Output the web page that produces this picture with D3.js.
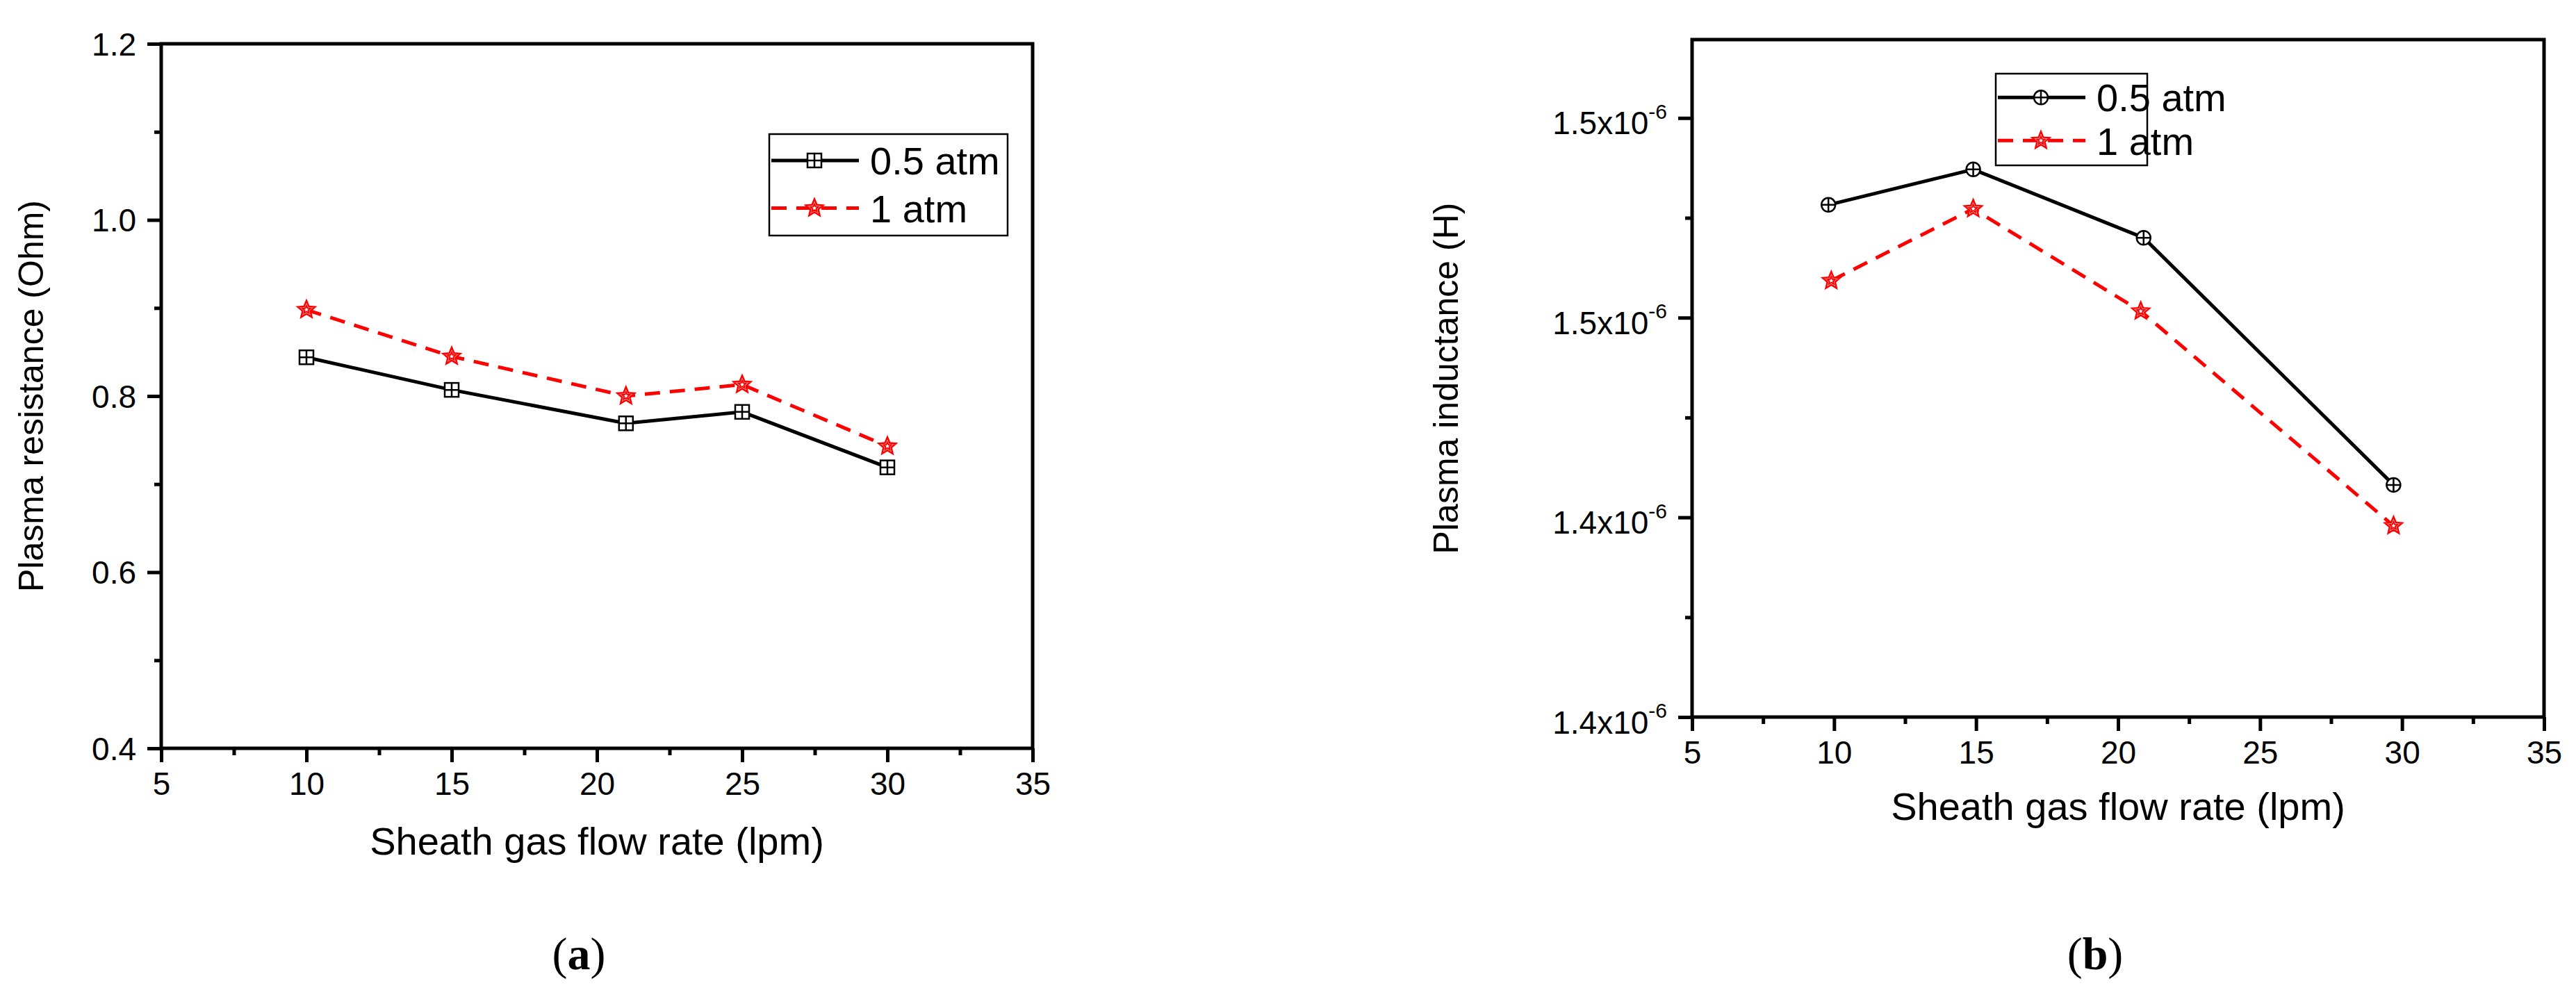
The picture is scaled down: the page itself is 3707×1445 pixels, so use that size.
<!DOCTYPE html>
<html><head><meta charset="utf-8">
<script src="https://cdn.jsdelivr.net/npm/d3@7"></script>
<style>body{margin:0;background:#fff}</style>
</head><body>
<script>
"use strict";

// panel (a) - plasma resistance
var flowA = [10, 15, 21, 25, 30];
var resLow = [0.844, 0.807, 0.769, 0.782, 0.719];
var resHigh = [0.898, 0.845, 0.800, 0.813, 0.743];
var yTicksA = [0.4, 0.6, 0.8, 1.0, 1.2];

// panel (b) - plasma inductance (H)
var flowLowB = [9.8, 14.9, 20.9, 29.7];
var flowHighB = [9.9, 14.9, 20.8, 29.7];
var indLow = [1.5026e-6, 1.5097e-6, 1.4960e-6, 1.4465e-6];
var indHigh = [1.4874e-6, 1.5018e-6, 1.4813e-6, 1.4383e-6];
var yTicksB = [1.40e-6, 1.44e-6, 1.48e-6, 1.52e-6];

var xTicks = [5, 10, 15, 20, 25, 30, 35];
var seriesNames = ["0.5 atm", "1 atm"];

var svg = d3.select("body").append("svg").attr("width", 3707).attr("height", 1445);
var tickFont = "'Liberation Sans Narrow', 'Liberation Sans', Arial, sans-serif";

function starPath(r) {
  var pts = [];
  for (var i = 0; i < 10; i++) {
    var a = -Math.PI / 2 + i * Math.PI / 5, rr = i % 2 ? r * 0.45 : r;
    pts.push([rr * Math.cos(a), rr * Math.sin(a)]);
  }
  return "M" + pts.join("L") + "Z";
}

function marker(g, type, color) {
  if (type === "square") {
    g.append("rect").attr("x", -10).attr("y", -10).attr("width", 20).attr("height", 20)
      .attr("fill", "#fff").attr("stroke", color).attr("stroke-width", 2.5);
    g.append("path").attr("d", "M-10,0H10M0,-10V10").attr("stroke", color).attr("stroke-width", 2.5);
  } else if (type === "circle") {
    g.append("circle").attr("r", 10).attr("fill", "#fff").attr("stroke", color).attr("stroke-width", 2.5);
    g.append("path").attr("d", "M-10,0H10M0,-10V10").attr("stroke", color).attr("stroke-width", 2.5);
  } else {
    g.append("path").attr("d", starPath(13)).attr("fill", "#fff").attr("stroke", color).attr("stroke-width", 2.5);
    g.append("path").attr("d", starPath(6)).attr("fill", "none").attr("stroke", color).attr("stroke-width", 2);
  }
}

function panel(o) {
  var x = d3.scaleLinear().domain([5, 35]).range([o.left, o.right]);
  var y = d3.scaleLinear().domain(o.yDomain).range([o.bottom, o.top]);
  var g = svg.append("g");

  // minor ticks
  var xMinor = d3.range(7.5, 35, 5);
  g.append("g").attr("transform", "translate(0," + o.bottom + ")")
    .call(d3.axisBottom(x).tickValues(xMinor).tickSize(10).tickFormat(""))
    .call(function (a) { a.select(".domain").remove(); a.selectAll("line").attr("stroke-width", 5); });
  g.append("g").attr("transform", "translate(" + o.left + ",0)")
    .call(d3.axisLeft(y).tickValues(o.yMinor).tickSize(10).tickFormat(""))
    .call(function (a) { a.select(".domain").remove(); a.selectAll("line").attr("stroke-width", 5); });

  var xa = g.append("g").attr("transform", "translate(0," + o.bottom + ")")
    .call(d3.axisBottom(x).tickValues(xTicks).tickSize(20).tickPadding(14).tickFormat(d3.format("d")));
  xa.select(".domain").remove();
  xa.selectAll("line").attr("stroke-width", 5);
  xa.selectAll("text").attr("font-family", tickFont).attr("font-size", 46).attr("fill", "#000");

  var ya = g.append("g").attr("transform", "translate(" + o.left + ",0)")
    .call(d3.axisLeft(y).tickValues(o.yTicks).tickSize(20).tickPadding(8).tickFormat(""));
  ya.select(".domain").remove();
  ya.selectAll("line").attr("stroke-width", 5);
  ya.selectAll(".tick").each(function (d) {
    var t = d3.select(this).append("text").attr("x", -36).attr("dy", "0.35em").attr("text-anchor", "end")
      .attr("font-family", tickFont).attr("font-size", 46).attr("fill", "#000");
    o.tickLabel(t, d);
  });

  g.append("rect").attr("x", o.left).attr("y", o.top).attr("width", o.right - o.left).attr("height", o.bottom - o.top)
    .attr("fill", "none").attr("stroke", "#000").attr("stroke-width", 5);

  o.series.forEach(function (s) {
    var pts = s.xs.map(function (v, i) { return [x(v), y(s.ys[i])]; });
    g.append("path").attr("d", d3.line()(pts)).attr("fill", "none").attr("stroke", s.color)
      .attr("stroke-width", 5).attr("stroke-dasharray", s.dash || null);
    pts.forEach(function (p) { marker(g.append("g").attr("transform", "translate(" + p + ")"), s.marker, s.color); });
  });

  // legend
  var lg = g.append("g");
  lg.append("rect").attr("x", o.leg[0]).attr("y", o.leg[1]).attr("width", o.leg[2]).attr("height", o.leg[3])
    .attr("fill", "#fff").attr("stroke", "#000").attr("stroke-width", 2.5);
  o.series.forEach(function (s, i) {
    var cy = o.leg[1] + o.leg[3] * (0.26 + 0.47 * i), x0 = o.leg[0] + 3, x1 = x0 + 126;
    lg.append("line").attr("x1", x0).attr("x2", x1).attr("y1", cy).attr("y2", cy).attr("stroke", s.color)
      .attr("stroke-width", 5).attr("stroke-dasharray", s.dash || null);
    marker(lg.append("g").attr("transform", "translate(" + (x0 + 62) + "," + cy + ")"), s.marker, s.color);
    lg.append("text").attr("x", x1 + 16).attr("y", cy).attr("dy", "0.36em").attr("font-family", tickFont)
      .attr("font-size", 56).text(seriesNames[i]);
  });

  g.append("text").attr("x", (o.left + o.right) / 2).attr("y", o.xLabelY).attr("text-anchor", "middle")
    .attr("font-family", tickFont).attr("font-size", 56).text("Sheath gas flow rate (lpm)");
  g.append("text").attr("transform", "translate(" + o.yLabelX + "," + (o.top + o.bottom) / 2 + ") rotate(-90)")
    .attr("text-anchor", "middle").attr("font-family", "'Liberation Sans', Arial, sans-serif")
    .attr("font-size", 50).text(o.yLabel);
  var cap = g.append("text").attr("x", o.capX).attr("y", 1395).attr("text-anchor", "middle")
    .attr("font-family", "'Liberation Serif', 'Times New Roman', serif").attr("font-size", 66);
  cap.append("tspan").text("(");
  cap.append("tspan").attr("font-weight", "bold").text(o.cap);
  cap.append("tspan").text(")");
}

panel({
  left: 232, right: 1486, top: 63, bottom: 1077,
  yDomain: [0.4, 1.2], yTicks: yTicksA, yMinor: [0.5, 0.7, 0.9, 1.1],
  tickLabel: function (t, d) { t.text(d3.format(".1f")(d)); },
  series: [
    { xs: flowA, ys: resLow, color: "#000", marker: "square" },
    { xs: flowA, ys: resHigh, color: "#ff0000", marker: "star", dash: "22,14" }
  ],
  leg: [1107, 193, 343, 146],
  xLabelY: 1230, yLabelX: 62, yLabel: "Plasma resistance (Ohm)", capX: 833, cap: "a"
});

panel({
  left: 2435, right: 3661, top: 57, bottom: 1032,
  yDomain: [1.40e-6, 1.5357e-6], yTicks: yTicksB, yMinor: [1.42e-6, 1.46e-6, 1.50e-6],
  tickLabel: function (t, d) {
    t.attr("dy", "0.5em");
    t.append("tspan").text(d3.format(".1f")(d * 1e6) + "x10");
    t.append("tspan").attr("dy", "-0.75em").attr("font-size", 30).text("-6");
  },
  series: [
    { xs: flowLowB, ys: indLow, color: "#000", marker: "circle" },
    { xs: flowHighB, ys: indHigh, color: "#ff0000", marker: "star", dash: "22,14" }
  ],
  leg: [2872, 106, 218, 132],
  xLabelY: 1180, yLabelX: 2098, yLabel: "Plasma inductance (H)", capX: 3015, cap: "b"
});
</script>
</body></html>
